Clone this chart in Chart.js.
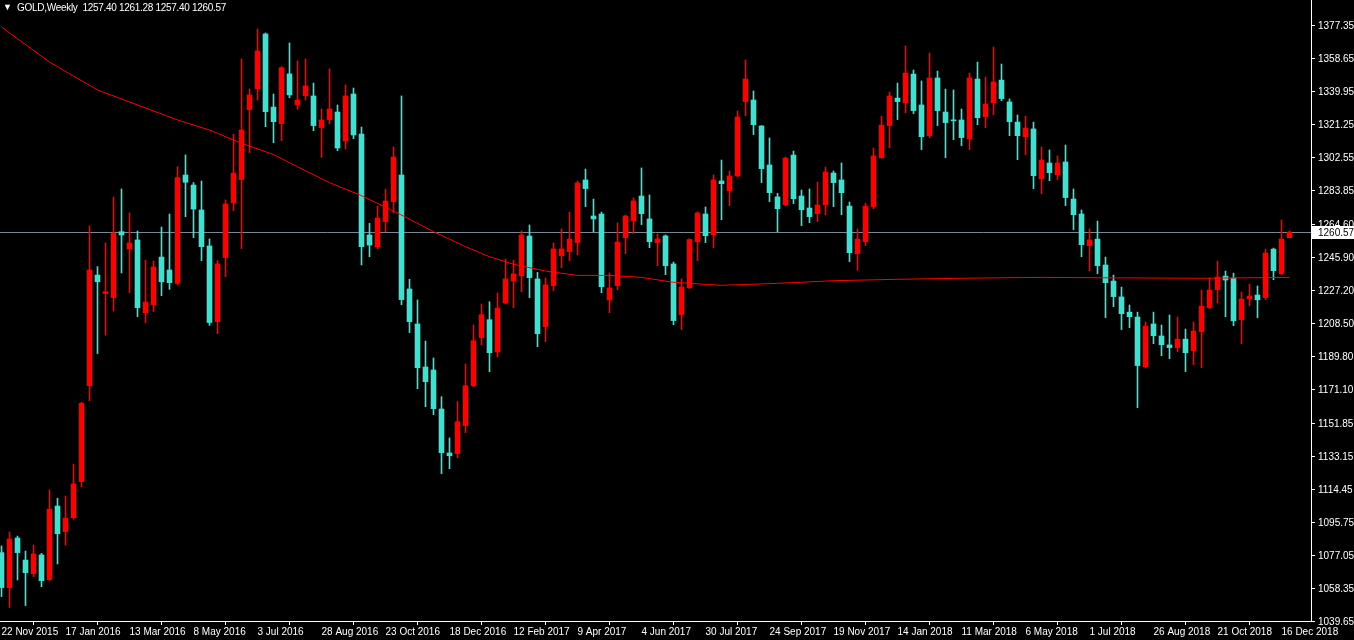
<!DOCTYPE html>
<html>
<head>
<meta charset="utf-8">
<script src="https://cdn.jsdelivr.net/npm/chart.js@4"></script>
<style>
  html, body { margin: 0; padding: 0; background: #000; }
  #wrap { position: relative; width: 1354px; height: 640px; }
  #title { position: absolute; left: 3px; top: 2px; color: #fff; font: 10px "Liberation Sans", Arial, sans-serif; white-space: pre; letter-spacing: -0.3px; }
  #title .tri { font-size: 9px; position: relative; top: -1px; margin-right: 3px; }
</style>
</head>
<body>
<div id="wrap">
  <canvas id="chart" width="1354" height="640"></canvas>
  <div id="title"></div>
</div>
<script>
// 주간 봉 (22 Nov 2015 ~ 23 Dec 2018)
const dateLabels = ['22 Nov 2015', '17 Jan 2016', '13 Mar 2016', '8 May 2016', '3 Jul 2016', '28 Aug 2016',
    '23 Oct 2016', '18 Dec 2016', '12 Feb 2017', '9 Apr 2017', '4 Jun 2017', '30 Jul 2017', '24 Sep 2017',
    '19 Nov 2017', '14 Jan 2018', '11 Mar 2018', '6 May 2018', '1 Jul 2018', '26 Aug 2018', '21 Oct 2018',
    '16 Dec 2018'];

const yTicks = [1377.35, 1358.65, 1339.95, 1321.25, 1302.55, 1283.85, 1264.60, 1245.90, 1227.20, 1208.50,
    1189.80, 1171.10, 1151.85, 1133.15, 1114.45, 1095.75, 1077.05, 1058.35, 1039.65];

const opens = [
    1078.9, 1059.1, 1087.2, 1074.7, 1067.0, 1077.6, 1063.6, 1105.3, 1090.8, 1098.7,
    1119.1, 1173.5, 1236.2, 1225.7, 1223.4, 1260.8, 1251.0, 1256.1, 1214.9, 1219.4,
    1246.4, 1239.1, 1231.5, 1292.9, 1287.2, 1273.1, 1252.7, 1209.8, 1246.1, 1277.2,
    1290.3, 1329.9, 1341.8, 1372.8, 1331.4, 1322.0, 1350.2, 1332.8, 1337.9, 1337.7,
    1319.8, 1324.3, 1328.6, 1312.2, 1338.8, 1316.1, 1258.9, 1252.3, 1266.5, 1277.8,
    1292.9, 1228.3, 1208.5, 1184.1, 1182.4, 1160.3, 1135.4, 1135.0, 1150.9, 1173.5,
    1200.7, 1210.9, 1192.6, 1220.4, 1232.8, 1235.7, 1258.3, 1234.0, 1207.0, 1230.2,
    1247.2, 1249.5, 1254.6, 1290.1, 1269.7, 1270.8, 1222.1, 1230.2, 1257.4, 1267.0,
    1281.0, 1268.0, 1254.6, 1258.4, 1242.5, 1213.8, 1229.1, 1255.1, 1270.8, 1259.1,
    1289.5, 1284.0, 1292.4, 1334.5, 1335.4, 1320.7, 1298.6, 1280.5, 1276.1, 1304.2,
    1281.0, 1274.2, 1271.0, 1276.1, 1294.0, 1290.1, 1275.3, 1248.3, 1255.1, 1275.0,
    1302.7, 1320.9, 1336.5, 1333.9, 1350.1, 1332.6, 1315.2, 1347.9, 1328.6, 1324.1,
    1324.1, 1313.5, 1347.3, 1326.0, 1333.9, 1346.7, 1334.3, 1322.9, 1314.6, 1319.0,
    1290.8, 1299.7, 1293.1, 1300.3, 1279.3, 1270.8, 1252.9, 1256.6, 1241.9, 1232.8,
    1223.8, 1215.2, 1212.4, 1184.3, 1208.5, 1201.7, 1196.6, 1195.1, 1199.9, 1193.3,
    1204.1, 1217.7, 1227.9, 1235.6, 1234.5, 1210.9, 1222.8, 1224.9, 1223.4, 1250.9,
    1237.0, 1257.40];

const highs = [
    1082.7, 1090.6, 1088.3, 1079.8, 1083.2, 1078.5, 1114.4, 1109.7, 1111.0, 1129.1,
    1164.1, 1264.0, 1241.0, 1254.4, 1280.4, 1285.0, 1271.4, 1261.2, 1244.7, 1244.1,
    1263.4, 1270.8, 1297.6, 1304.3, 1288.6, 1289.5, 1256.7, 1244.4, 1278.8, 1316.0,
    1358.7, 1341.7, 1375.6, 1373.4, 1338.8, 1354.3, 1367.7, 1357.5, 1358.7, 1345.0,
    1330.3, 1353.0, 1332.6, 1343.9, 1342.2, 1320.1, 1265.5, 1275.3, 1284.9, 1308.8,
    1337.7, 1233.8, 1222.1, 1198.8, 1189.2, 1167.3, 1143.9, 1164.5, 1185.8, 1207.9,
    1219.8, 1221.1, 1226.0, 1245.3, 1244.7, 1261.2, 1264.6, 1237.7, 1234.5, 1254.4,
    1262.3, 1271.9, 1289.5, 1296.3, 1279.3, 1271.9, 1237.4, 1265.7, 1270.2, 1279.9,
    1296.9, 1281.6, 1259.5, 1258.9, 1243.6, 1234.0, 1256.8, 1272.0, 1274.8, 1292.9,
    1301.4, 1295.2, 1329.2, 1358.1, 1340.5, 1320.9, 1313.9, 1282.5, 1303.1, 1306.5,
    1284.4, 1285.0, 1288.9, 1297.4, 1295.2, 1299.7, 1277.6, 1262.3, 1277.0, 1308.2,
    1326.3, 1339.9, 1345.0, 1366.0, 1352.4, 1346.2, 1362.0, 1351.8, 1341.6, 1341.1,
    1330.3, 1350.7, 1356.9, 1348.4, 1365.4, 1355.8, 1336.0, 1326.9, 1326.3, 1322.9,
    1308.8, 1307.1, 1303.7, 1309.9, 1285.0, 1273.1, 1262.3, 1266.8, 1246.4, 1236.2,
    1229.4, 1219.2, 1215.2, 1209.6, 1215.2, 1207.9, 1213.6, 1212.4, 1205.6, 1209.6,
    1227.7, 1234.5, 1244.1, 1238.5, 1237.3, 1226.6, 1231.1, 1230.0, 1250.9, 1251.5,
    1267.4, 1261.28];

const lows = [
    1054.0, 1047.8, 1063.4, 1048.9, 1065.3, 1059.6, 1063.0, 1072.5, 1083.2, 1097.9,
    1116.3, 1165.0, 1191.7, 1202.2, 1215.8, 1237.4, 1226.2, 1212.6, 1209.2, 1215.5,
    1224.5, 1228.1, 1230.6, 1269.3, 1257.4, 1244.4, 1207.7, 1203.0, 1235.3, 1272.7,
    1251.2, 1305.6, 1335.4, 1320.3, 1311.2, 1312.4, 1336.7, 1330.1, 1335.4, 1318.0,
    1302.9, 1322.0, 1306.7, 1307.6, 1313.5, 1241.9, 1246.6, 1251.1, 1260.8, 1271.5,
    1219.4, 1203.6, 1171.8, 1161.6, 1157.1, 1123.6, 1126.5, 1132.7, 1146.9, 1172.9,
    1196.7, 1181.4, 1189.8, 1219.8, 1217.7, 1226.8, 1223.4, 1195.6, 1198.5, 1227.4,
    1240.4, 1244.4, 1247.8, 1275.0, 1260.8, 1226.2, 1214.9, 1227.9, 1248.3, 1259.7,
    1264.8, 1251.7, 1241.5, 1236.4, 1208.1, 1205.3, 1228.5, 1244.4, 1254.6, 1251.7,
    1267.6, 1275.5, 1291.8, 1326.5, 1315.8, 1288.6, 1277.8, 1260.8, 1275.5, 1276.7,
    1264.2, 1265.9, 1266.5, 1270.4, 1275.0, 1270.4, 1243.8, 1239.0, 1252.9, 1273.8,
    1302.4, 1308.4, 1324.3, 1328.2, 1327.7, 1307.3, 1314.1, 1320.9, 1302.7, 1312.9,
    1309.5, 1307.3, 1321.4, 1319.7, 1327.1, 1335.0, 1315.2, 1301.6, 1304.4, 1285.2,
    1282.3, 1289.7, 1290.3, 1275.5, 1261.9, 1246.6, 1238.7, 1237.0, 1212.1, 1218.3,
    1205.3, 1206.4, 1161.0, 1183.7, 1197.3, 1190.5, 1188.8, 1192.8, 1181.5, 1185.4,
    1183.7, 1217.2, 1220.5, 1212.6, 1207.5, 1197.3, 1218.8, 1212.0, 1222.2, 1233.6,
    1236.4, 1257.40];

const closes = [
    1059.1, 1086.6, 1078.9, 1067.5, 1078.1, 1063.0, 1103.6, 1089.6, 1098.5, 1117.8,
    1163.5, 1239.1, 1232.4, 1226.8, 1260.0, 1258.9, 1254.4, 1217.7, 1220.9, 1240.8,
    1232.4, 1231.9, 1291.4, 1288.8, 1273.6, 1252.3, 1209.3, 1242.5, 1276.5, 1294.0,
    1318.4, 1338.3, 1363.2, 1328.8, 1323.1, 1353.7, 1338.3, 1335.4, 1343.4, 1320.9,
    1324.1, 1330.3, 1308.2, 1337.7, 1315.6, 1252.3, 1253.2, 1268.5, 1278.2, 1303.1,
    1222.3, 1209.8, 1183.7, 1175.8, 1160.5, 1135.5, 1133.8, 1153.1, 1173.5, 1199.0,
    1213.7, 1192.2, 1217.5, 1234.0, 1236.8, 1258.9, 1234.7, 1203.0, 1230.6, 1251.0,
    1251.0, 1256.6, 1288.4, 1285.2, 1268.0, 1229.6, 1228.9, 1254.9, 1269.7, 1278.2,
    1271.0, 1255.1, 1256.7, 1241.5, 1210.4, 1229.5, 1256.3, 1271.4, 1258.5, 1290.1,
    1288.0, 1292.4, 1325.8, 1347.3, 1321.4, 1296.5, 1282.9, 1273.8, 1302.5, 1279.5,
    1273.2, 1269.3, 1275.9, 1294.6, 1288.6, 1282.9, 1248.9, 1256.6, 1275.3, 1303.7,
    1321.2, 1337.7, 1334.5, 1350.7, 1329.4, 1314.6, 1347.9, 1329.4, 1322.6, 1323.6,
    1314.1, 1347.9, 1325.4, 1333.1, 1345.6, 1336.2, 1323.1, 1315.2, 1319.5, 1292.5,
    1301.4, 1294.2, 1299.7, 1280.1, 1270.4, 1253.4, 1256.1, 1241.5, 1231.9, 1224.0,
    1214.3, 1212.6, 1184.9, 1207.3, 1201.8, 1196.7, 1195.1, 1199.9, 1192.2, 1204.5,
    1218.6, 1227.7, 1235.1, 1233.4, 1210.3, 1222.6, 1224.3, 1222.2, 1248.7, 1238.7,
    1256.6, 1260.57];

// 이동평균선 (읽은 지점)
const maIdx = [0, 6, 12, 19, 22, 26, 30, 34, 37, 41, 45, 50, 54, 58, 61, 64, 68, 72, 76, 80,
    84, 90, 97, 104, 112, 120, 130, 140, 150, 161];
const maVal = [1376.8, 1356.9, 1341.1, 1329.2, 1324.1, 1318.4, 1310.9, 1304.5, 1297.6, 1288.6,
    1281.2, 1270.2, 1260.8, 1252.3, 1246.6, 1242.3, 1238.5, 1236.0, 1236.0, 1234.9,
    1232.1, 1230.4, 1231.5, 1233.0, 1233.8, 1234.4, 1234.9, 1234.6, 1234.4, 1234.9];

const UP = '#ff0000';
const DOWN = '#40e0d0';
const FONT = '"Liberation Sans", Arial, sans-serif';
const last = opens.length - 1;

const colors = opens.map((o, i) => closes[i] >= o ? UP : DOWN);
const bodies = opens.map((o, i) => ({ x: i, y: [o, closes[i]] }));
const wicks = lows.map((l, i) => ({ x: i, y: [l, highs[i]] }));
const maPoints = maIdx.map((k, i) => ({ x: k, y: maVal[i] }));

document.getElementById('title').innerHTML =
    '<span class="tri">\u25BC</span> GOLD,Weekly  ' +
    [opens[last], highs[last], lows[last], closes[last]].map(v => v.toFixed(2)).join(' ');

// 현재가 선 + 오른쪽 가격 박스
const bidPlugin = {
    id: 'bidLine',
    beforeDatasetsDraw(chart) {
        const { ctx, chartArea, scales } = chart;
        const py = Math.round(scales.y.getPixelForValue(closes[last])) + 0.5;
        ctx.save();
        ctx.strokeStyle = '#778899';
        ctx.lineWidth = 1;
        ctx.beginPath();
        ctx.moveTo(chartArea.left, py);
        ctx.lineTo(chartArea.right, py);
        ctx.stroke();
        ctx.restore();
    },
    afterDraw(chart) {
        const { ctx, chartArea, scales } = chart;
        const py = Math.round(scales.y.getPixelForValue(closes[last]));
        ctx.save();
        ctx.fillStyle = '#ffffff';
        ctx.fillRect(chartArea.right + 1, py - 6, 43, 13);
        ctx.fillStyle = '#000000';
        ctx.font = '10px ' + FONT;
        ctx.textBaseline = 'middle';
        ctx.fillText(closes[last].toFixed(2), chartArea.right + 7, py + 1);
        ctx.restore();
    }
};

const ctx = document.getElementById('chart').getContext('2d');
new Chart(ctx, {
    type: 'bar',
    data: {
        datasets: [
            { type: 'line', data: maPoints, borderColor: '#ff0000', borderWidth: 1, pointRadius: 0, tension: 0, order: 0 },
            { data: bodies, backgroundColor: colors, barThickness: 5, grouped: false, minBarLength: 1, borderWidth: 0, order: 1 },
            { data: wicks, backgroundColor: colors, barThickness: 1, grouped: false, borderWidth: 0, order: 2 }
        ]
    },
    options: {
        responsive: false,
        animation: false,
        devicePixelRatio: 1,
        layout: { padding: 0 },
        plugins: { legend: { display: false }, tooltip: { enabled: false } },
        scales: {
            x: {
                type: 'linear',
                min: -0.1875,
                max: 163.6875,
                offset: false,
                afterBuildTicks: s => { s.ticks = dateLabels.map((d, i) => ({ value: i * 8 })); },
                afterFit: s => { s.height = 19; s.paddingLeft = 0; s.paddingRight = 0; },
                ticks: {
                    color: '#ffffff',
                    font: { family: FONT, size: 10 },
                    align: 'start',
                    maxRotation: 0,
                    autoSkip: false,
                    padding: 1,
                    callback: v => dateLabels[Math.round(v / 8)]
                },
                grid: { drawOnChartArea: false, drawTicks: true, tickLength: 4, color: '#ffffff' },
                border: { display: true, color: '#ffffff' }
            },
            y: {
                position: 'right',
                min: 1040.16,
                max: 1392.08,
                afterBuildTicks: s => { s.ticks = yTicks.map(v => ({ value: v })); },
                afterFit: s => { s.width = 43; s.paddingTop = 0; s.paddingBottom = 0; },
                ticks: {
                    color: '#ffffff',
                    font: { family: FONT, size: 10 },
                    padding: 3,
                    callback: v => v.toFixed(2)
                },
                grid: { drawOnChartArea: false, drawTicks: true, tickLength: 4, color: '#ffffff' },
                border: { display: true, color: '#ffffff' }
            }
        }
    },
    plugins: [bidPlugin]
});
</script>
</body>
</html>
